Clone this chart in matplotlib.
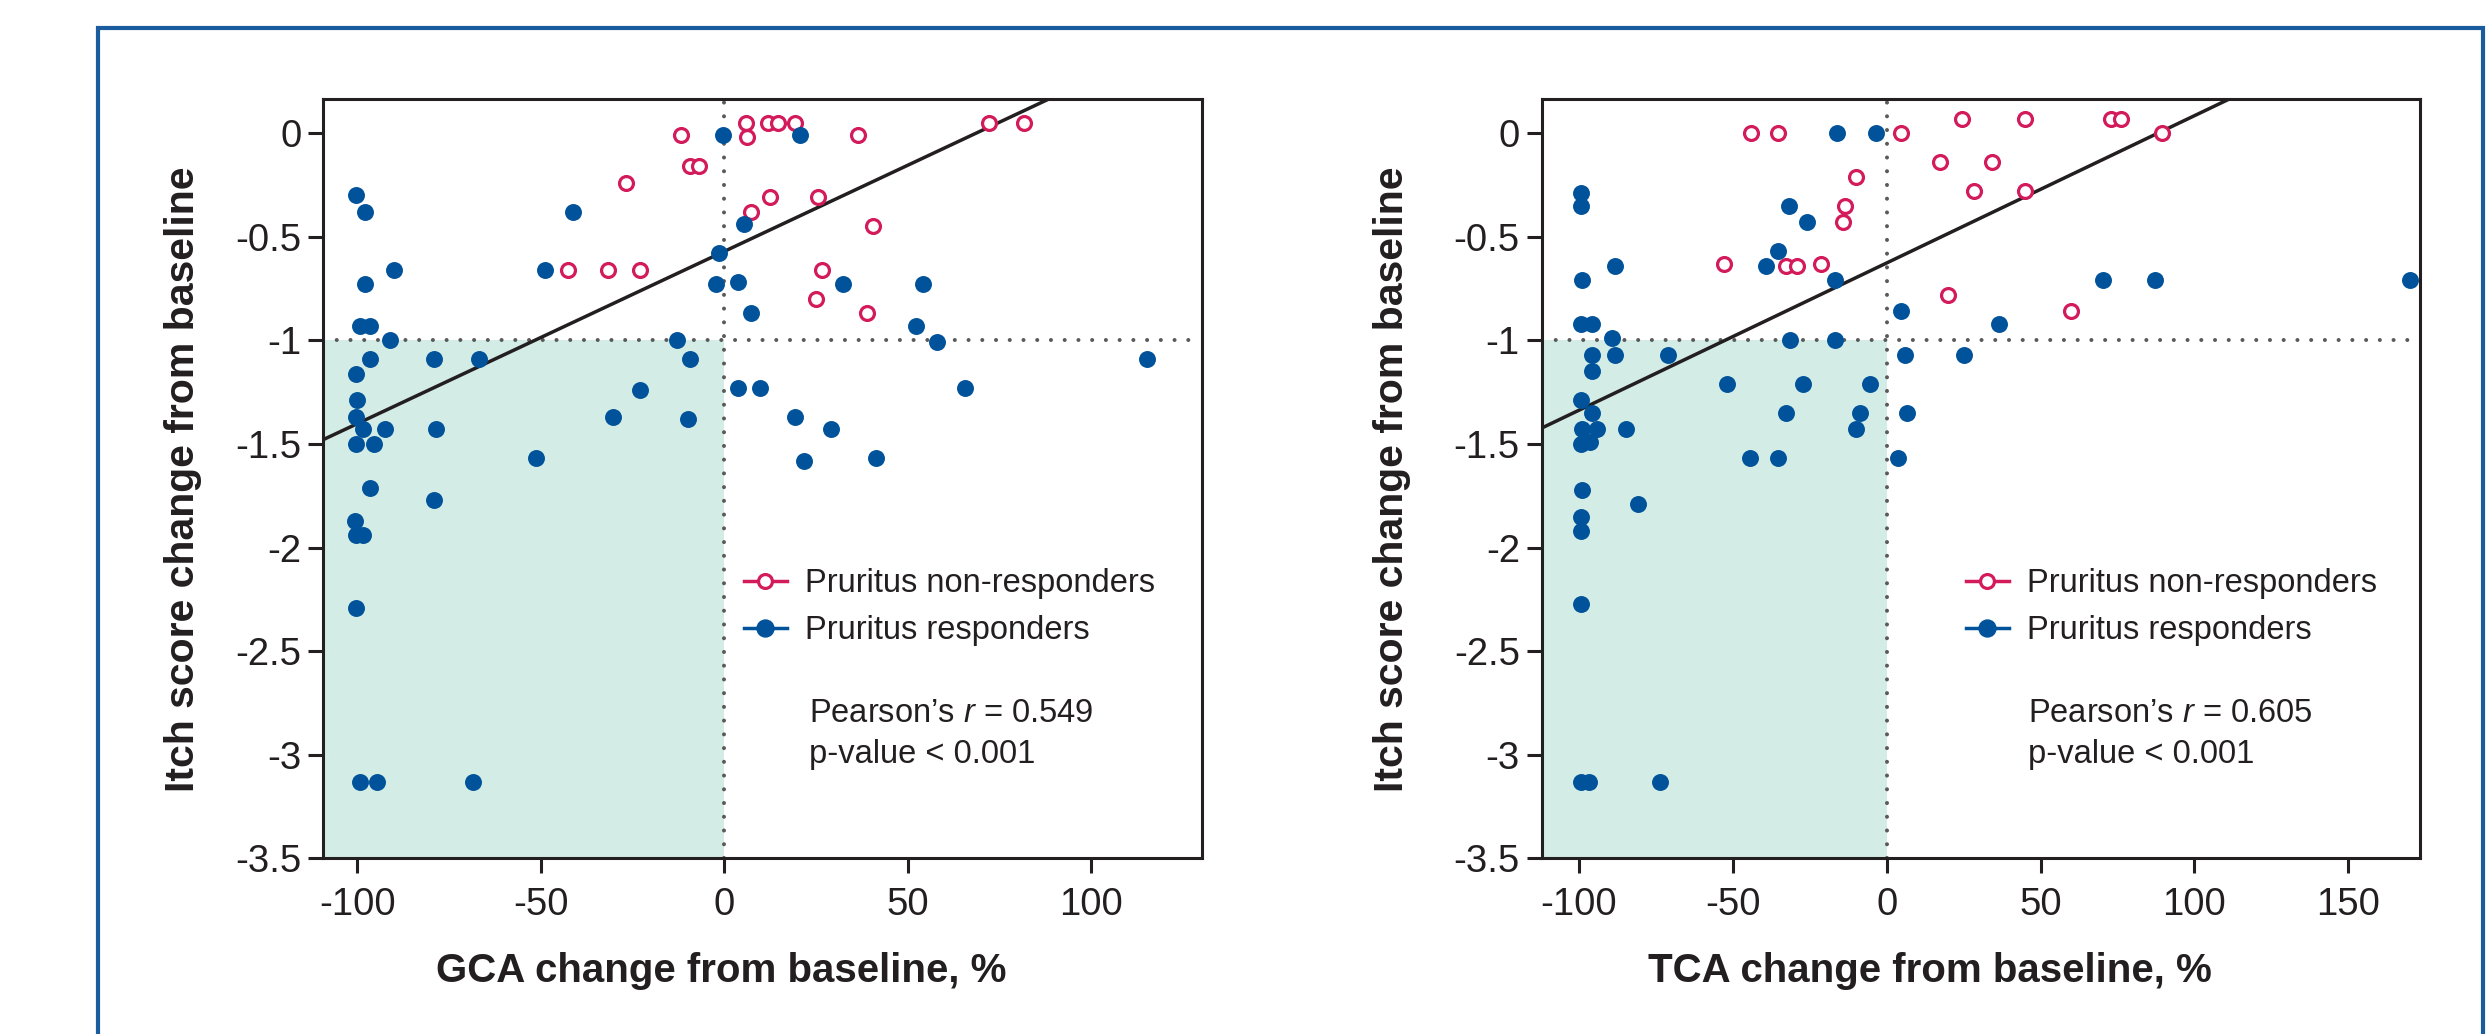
import numpy as np
import matplotlib
matplotlib.use("Agg")
import matplotlib.pyplot as plt
from matplotlib.lines import Line2D
from matplotlib.patches import Rectangle

# ---------------- data ----------------
gca_resp_x = [-100.4, -98.0, -89.9, -98.0, -99.3, -96.7, -91.1, -96.7, -79.2, -66.8,
              -100.4, -100.0, -100.4, -98.4, -92.5, -78.7, -100.4, -95.6, -96.7, -79.2,
              -51.2, -100.7, -100.4, -98.4, -100.4, -99.3, -94.7, -68.6, -48.8, -41.2,
              -13.0, -9.4, -23.1, -30.4, -10.0, -0.3, -1.4, -2.3, 20.6, 5.3,
              3.8, 32.4, 54.2, 7.3, 52.3, 58.0, 115.1, 3.8, 9.7, 65.7,
              19.2, 29.0, 21.8, 41.2]
gca_resp_y = [-0.30, -0.38, -0.66, -0.73, -0.93, -0.93, -1.00, -1.09, -1.09, -1.09,
              -1.16, -1.29, -1.37, -1.43, -1.43, -1.43, -1.50, -1.50, -1.71, -1.77,
              -1.57, -1.87, -1.94, -1.94, -2.29, -3.13, -3.13, -3.13, -0.66, -0.38,
              -1.00, -1.09, -1.24, -1.37, -1.38, -0.01, -0.58, -0.73, -0.01, -0.44,
              -0.72, -0.73, -0.73, -0.87, -0.93, -1.01, -1.09, -1.23, -1.23, -1.23,
              -1.37, -1.43, -1.58, -1.57]
gca_nonresp_x = [-11.8, -9.4, -7.0, -26.9, -42.6, -31.6, -23.1, 5.9, 6.3, 12.0, 14.5,
                 19.3, 36.4, 72.1, 81.7, 12.4, 25.4, 7.3, 40.6, 26.6, 24.9, 38.8]
gca_nonresp_y = [-0.01, -0.16, -0.16, -0.24, -0.66, -0.66, -0.66, 0.05, -0.02, 0.05, 0.05,
                 0.05, -0.01, 0.05, 0.05, -0.31, -0.31, -0.38, -0.45, -0.66, -0.80, -0.87]

tca_resp_x = [-99.4, -99.4, -88.3, -98.9, -99.4, -95.8, -89.2, -95.8, -88.3, -71.1,
              -95.8, -99.4, -95.8, -98.9, -94.0, -84.8, -99.4, -96.3, -98.9, -80.7,
              -99.4, -99.4, -99.4, -99.4, -96.6, -73.8, -31.9, -25.9, -35.3, -39.1,
              -16.9, -16.1, -3.6, -31.3, -16.9, -51.8, -27.2, -5.4, -32.7, -8.6,
              -9.9, -44.4, -35.3, 4.5, 6.1, 6.6, 3.8, 70.2, 87.2, 36.6,
              25.2, 170.0]
tca_resp_y = [-0.29, -0.35, -0.64, -0.71, -0.92, -0.92, -0.99, -1.07, -1.07, -1.07,
              -1.15, -1.29, -1.35, -1.43, -1.43, -1.43, -1.50, -1.49, -1.72, -1.79,
              -1.85, -1.92, -2.27, -3.13, -3.13, -3.13, -0.35, -0.43, -0.57, -0.64,
              -0.71, 0.0, 0.0, -1.0, -1.0, -1.21, -1.21, -1.21, -1.35, -1.35,
              -1.43, -1.57, -1.57, -0.86, -1.07, -1.35, -1.57, -0.71, -0.71, -0.92,
              -1.07, -0.71]
tca_nonresp_x = [-44.1, -35.3, 4.5, -9.9, -13.5, -14.2, -52.8, -32.7, -29.2, -21.3, 24.4,
                 44.9, 73.0, 76.0, 89.4, 17.2, 34.3, 28.5, 44.9, 20.0, 59.9]
tca_nonresp_y = [0.0, 0.0, 0.0, -0.21, -0.35, -0.43, -0.63, -0.64, -0.64, -0.63, 0.07,
                 0.07, 0.07, 0.07, 0.0, -0.14, -0.14, -0.28, -0.28, -0.78, -0.86]

# regression lines (slope, intercept) as drawn in the figure
gca_fit = (0.008315, -0.570)
tca_fit = (0.00711, -0.626)

pearson_labels = ["Pearson\u2019s $r$ = 0.549", "Pearson\u2019s $r$ = 0.605"]
pvalue_label = "p-value < 0.001"
xlabels = ["GCA change from baseline, %", "TCA change from baseline, %"]
ylabel = "Itch score change from baseline"
legend_labels = ["Pruritus non-responders", "Pruritus responders"]

yticks = [0, -0.5, -1, -1.5, -2, -2.5, -3, -3.5]
ytick_labels = ["0", "-0.5", "-1", "-1.5", "-2", "-2.5", "-3", "-3.5"]
xticks_left = [-100, -50, 0, 50, 100]
xtick_labels_left = ["-100", "-50", "0", "50", "100"]
xticks_right = [-100, -50, 0, 50, 100, 150]
xtick_labels_right = ["-100", "-50", "0", "50", "100", "150"]

# thresholds
y_thr = -1.0
x_thr = 0.0

# ---------------- style ----------------
plt.rcParams['font.family'] = ['Liberation Sans', 'DejaVu Sans']
plt.rcParams['mathtext.fontset'] = 'custom'
plt.rcParams['mathtext.rm'] = 'Liberation Sans'
plt.rcParams['mathtext.it'] = 'Liberation Sans:italic'
plt.rcParams['axes.unicode_minus'] = False

BLUE = '#00539b'
RED = '#d31b5b'
SHADE = '#d3ece5'
DARK = '#231f20'
DOT = '#5a5a5a'
FRAME = '#1b5c9e'

W, H = 2487, 1034
fig = plt.figure(figsize=(W / 100, H / 100), dpi=100)

# outer frame (open at bottom)
fig.add_artist(Rectangle((98 / W, -0.2), (2483 - 98) / W, 1.2 - 28 / H,
                         transform=fig.transFigure, fill=False,
                         edgecolor=FRAME, linewidth=3.0))

ax_l = fig.add_axes([323.3 / W, 1 - 858.3 / H, 878.4 / W, 759 / H])
ax_r = fig.add_axes([1541.7 / W, 1 - 858.3 / H, 878.4 / W, 759 / H])

panels = [
    (ax_l, gca_resp_x, gca_resp_y, gca_nonresp_x, gca_nonresp_y, gca_fit,
     (-109.3, 130.1), xticks_left, xtick_labels_left, 0, 0.4528, -0.160),
    (ax_r, tca_resp_x, tca_resp_y, tca_nonresp_x, tca_nonresp_y, tca_fit,
     (-112.1, 173.3), xticks_right, xtick_labels_right, 1, 0.442, -0.170),
]

for (ax, rx, ry, nx, ny, fit, xlim, xt, xtl, idx, xlab_x, ylab_x) in panels:
    ylim = (-3.5, 0.164)
    ax.set_xlim(*xlim)
    ax.set_ylim(*ylim)
    # responder quadrant shading
    ax.add_patch(Rectangle((xlim[0], ylim[0]), x_thr - xlim[0], y_thr - ylim[0],
                           facecolor=SHADE, edgecolor='none', zorder=0))
    # dotted reference lines
    ax.axhline(y_thr, color=DOT, lw=2.9, linestyle=(0, (0.01, 3.4)),
               dash_capstyle='round', zorder=1)
    ax.axvline(x_thr, color=DOT, lw=2.9, linestyle=(0, (0.01, 3.4)),
               dash_capstyle='round', zorder=1)
    # regression line
    xs = np.array(xlim)
    ax.plot(xs, fit[0] * xs + fit[1], color=DARK, lw=2.5, zorder=2,
            solid_capstyle='butt')
    # points
    ax.plot(nx, ny, linestyle='none', marker='o', ms=10, mfc='white', mec=RED,
            mew=2.3, zorder=3)
    ax.plot(rx, ry, linestyle='none', marker='o', ms=12.2, mfc=BLUE, mec='none',
            zorder=4)

    ax.set_xticks(xt, labels=xtl)
    ax.set_yticks(yticks, labels=ytick_labels)
    ax.tick_params(axis='both', direction='out', length=10.8, width=2.2,
                   color=DARK, labelsize=27.5, labelcolor=DARK)
    ax.tick_params(axis='x', pad=10)
    ax.tick_params(axis='y', pad=5)
    for s in ax.spines.values():
        s.set_linewidth(2.2)
        s.set_color(DARK)
        s.set_zorder(5)

    ax.set_xlabel(xlabels[idx], fontsize=29, fontweight='bold', color=DARK)
    ax.xaxis.label.set_va('center')
    ax.xaxis.set_label_coords(xlab_x, (858.3 - 970.6) / 759)
    ax.set_ylabel(ylabel, fontsize=29.5, fontweight='bold', color=DARK)
    ax.yaxis.label.set_va('center')
    ax.yaxis.set_label_coords(ylab_x, 0.5)

    handles = [
        Line2D([], [], color=RED, lw=2.5, marker='o', ms=10, mfc='white', mec=RED, mew=2.3),
        Line2D([], [], color=BLUE, lw=2.5, marker='o', ms=12.2, mfc=BLUE, mec=BLUE),
    ]
    anchor_x = (743.9 if idx == 0 else 1965.9) / W
    ax.legend(handles, legend_labels, loc='upper left',
              bbox_to_anchor=(anchor_x, 1 - 568 / H), bbox_transform=fig.transFigure,
              frameon=False, fontsize=23.5, borderpad=0, borderaxespad=0,
              handlelength=1.32, handletextpad=0.56, labelspacing=0.5,
              labelcolor=DARK)
    tx = (808.8 if idx == 0 else 2027.6) / W
    fig.text(tx, 1 - 713.3 / H, pearson_labels[idx], fontsize=23.5, color=DARK,
             ha='left', va='center')
    fig.text(tx, 1 - 755 / H, pvalue_label, fontsize=23.5, color=DARK,
             ha='left', va='center')

fig.savefig('out.png', dpi=100, facecolor='white')
